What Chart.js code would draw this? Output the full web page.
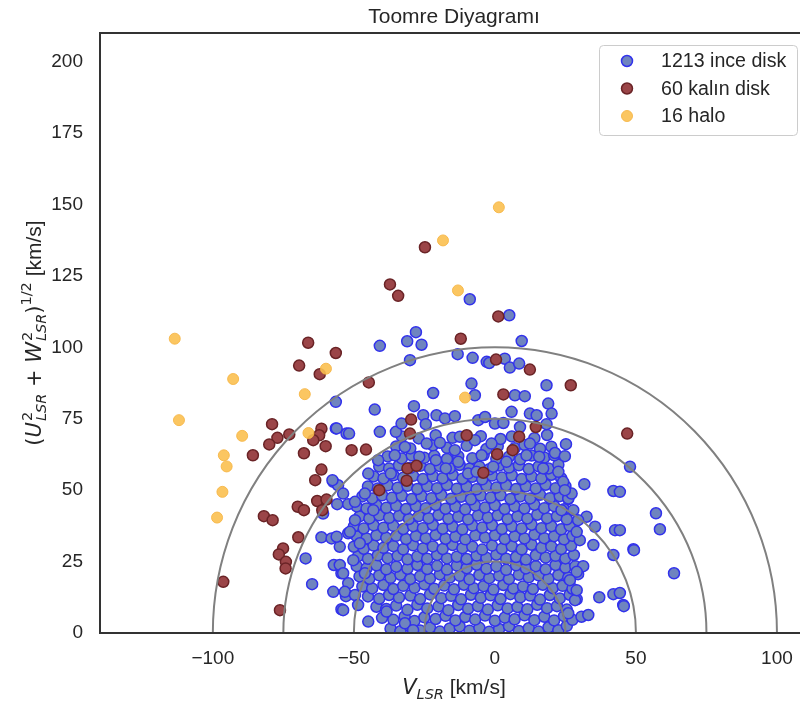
<!DOCTYPE html>
<html>
<head>
<meta charset="utf-8">
<title>Toomre Diyagramı</title>
<script src="https://cdn.jsdelivr.net/npm/chart.js@4.4.1/dist/chart.umd.min.js"></script>
<style>
  html, body { margin: 0; padding: 0; background: #fff; overflow: hidden; }
  #wrap { width: 800px; height: 704px; overflow: hidden; }
  canvas { display: block; }
</style>
</head>
<body>
<div id="wrap"><canvas id="chart" width="820" height="704"></canvas></div>
<script>
// values: [V_LSR, sqrt(U^2 + W^2)] in km/s
const thinDisk = [
  // dense core, row by row
  [-37,1.5],[-33.5,0.6],[-30,2.2],[-26.5,0.9],[-23,1.9],[-19.5,0.5],[-16,1.6],[-12.5,2.3],[-9,0.8],[-5.5,1.8],[-2,0.4],[1.5,1.4],[5,2.4],[8.5,0.7],[12,1.7],[15.5,0.5],[19,2],[22.5,1],[25.5,2.5],
  [-40,5.3],[-36,4.6],[-32,5.8],[-28.5,4.2],[-25,5.5],[-21,4.9],[-17.5,6],[-14,4.4],[-10.5,5.6],[-7,4.7],[-3.5,6.1],[0,4.3],[3.5,5.4],[7,4.8],[10.5,6.2],[14,4.5],[17.5,5.7],[21,4.4],[24.5,5.9],[27.5,4.6],
  [-42,9.2],[-38.5,8.4],[-35,9.6],[-31,8.1],[-27.5,9.9],[-24,8.6],[-20,9.3],[-16.5,8],[-13,9.8],[-9.5,8.5],[-6,9.4],[-2.5,8.2],[1,9.7],[4.5,8.6],[8,9.1],[11.5,8.3],[15,9.9],[18.5,8.7],[22,9.4],[25.5,8.2],
  [-45,12.8],[-41,12],[-37.5,13.3],[-34,12.4],[-30,13.1],[-26.5,11.9],[-23,13.5],[-19,12.2],[-15.5,13],[-12,11.8],[-8.5,13.4],[-5,12.3],[-1.5,13.2],[2,11.9],[5.5,13.6],[9,12.5],[12.5,13.1],[16,11.7],[19.5,13.3],[23,12.1],[26.5,13.4],[29,11.8],
  [-47,16.3],[-43.5,15.6],[-39.5,16.8],[-36,15.4],[-32.5,16.5],[-28.5,15.8],[-25,17],[-21.5,15.5],[-18,16.6],[-14.5,15.3],[-11,16.9],[-7.5,15.7],[-4,16.4],[-0.5,15.2],[3,16.8],[6.5,15.6],[10,16.3],[13.5,15.4],[17,16.9],[20.5,15.7],[24,16.5],[27.5,15.5],
  [-48,19.8],[-44.5,19],[-41,20.2],[-37,19.3],[-33.5,20.4],[-30,18.9],[-26.5,19.9],[-23,19.1],[-19.5,20.5],[-16,19.4],[-12.5,20],[-9,18.8],[-5.5,20.3],[-2,19.2],[1.5,20.1],[5,18.9],[8.5,20.4],[12,19.5],[15.5,20.2],[19,19],[22.5,20.3],[26,19.4],[29.5,20.6],
  [-49,23.4],[-45.5,22.6],[-42,23.7],[-38.5,22.3],[-35,23.2],[-31,22.5],[-27.5,23.8],[-24,22.4],[-20.5,23.5],[-17,22.2],[-13.5,23.6],[-10,22.7],[-6.5,23.9],[-3,22.5],[0.5,23.3],[4,22.1],[7.5,23.7],[11,22.6],[14.5,23.4],[18,22.3],[21.5,23.8],[25,22.9],[28.5,23.4],
  [-48.5,26.9],[-45,26],[-41.5,27.2],[-38,26.2],[-34.5,27],[-31,25.8],[-27.5,26.8],[-24,26],[-20.5,27.3],[-17,26.1],[-13.5,26.7],[-10,25.9],[-6.5,27.1],[-3,26.3],[0.5,27.4],[4,26],[7.5,26.6],[11,25.7],[14.5,27.2],[18,26.4],[21.5,27],[25,26.1],[28,27.3],
  [-50,30.2],[-46.5,29.5],[-43,30.6],[-39.5,29.8],[-36,30.4],[-32.5,29.3],[-29,30.7],[-25.5,29.6],[-22,30.3],[-18.5,29.4],[-15,30.8],[-11.5,29.7],[-8,30.2],[-4.5,29.2],[-1,30.6],[2.5,29.5],[6,30.4],[9.5,29.3],[13,30.9],[16.5,29.8],[20,30.3],[23.5,29.4],[27,30.5],
  [-49,33.8],[-45.5,33.1],[-42,34.2],[-38.5,33.3],[-35,34],[-31.5,32.9],[-28,33.9],[-24.5,33.2],[-21,34.3],[-17.5,33],[-14,33.7],[-10.5,32.8],[-7,34.1],[-3.5,33.4],[0,34.2],[3.5,32.9],[7,33.8],[10.5,33.1],[14,34.4],[17.5,33.2],[21,33.9],[24.5,32.8],[27.5,34],
  [-50,37.3],[-46.5,36.6],[-43,37.7],[-39.5,36.8],[-36,37.5],[-32.5,36.4],[-29,37.4],[-25.5,36.7],[-22,37.8],[-18.5,36.5],[-15,37.2],[-11.5,36.3],[-8,37.6],[-4.5,36.9],[-1,37.7],[2.5,36.4],[6,37.3],[9.5,36.6],[13,37.9],[16.5,36.7],[20,37.4],[23.5,36.3],[26.5,37.5],
  [-48,40.8],[-44.5,40.1],[-41,41.2],[-37.5,40.3],[-34,41],[-30.5,39.9],[-27,40.9],[-23.5,40.2],[-20,41.3],[-16.5,40],[-13,40.7],[-9.5,39.8],[-6,41.1],[-2.5,40.4],[1,41.2],[4.5,39.9],[8,40.8],[11.5,40.1],[15,41.4],[18.5,40.2],[22,40.9],[25.5,39.8],
  [-49,44.3],[-45.5,43.6],[-42,44.7],[-38.5,43.8],[-35,44.5],[-31.5,43.4],[-28,44.4],[-24.5,43.7],[-21,44.8],[-17.5,43.5],[-14,44.2],[-10.5,43.3],[-7,44.6],[-3.5,43.9],[0,44.7],[3.5,43.4],[7,44.3],[10.5,43.6],[14,44.9],[17.5,43.7],[21,44.4],[24.5,43.3],
  [-47,47.8],[-43.5,47.1],[-40,48.2],[-36.5,47.3],[-33,48],[-29.5,46.9],[-26,47.9],[-22.5,47.2],[-19,48.3],[-15.5,47],[-12,47.7],[-8.5,46.8],[-5,48.1],[-1.5,47.4],[2,48.2],[5.5,46.9],[9,47.8],[12.5,47.1],[16,48.4],[19.5,47.2],[23,47.9],[26,46.9],
  [-45,51.3],[-41.5,50.6],[-38,51.7],[-34.5,50.8],[-31,51.5],[-27.5,50.4],[-24,51.4],[-20.5,50.7],[-17,51.8],[-13.5,50.5],[-10,51.2],[-6.5,50.3],[-3,51.6],[0.5,50.9],[4,51.7],[7.5,50.4],[11,51.3],[14.5,50.6],[18,51.9],[21.5,50.7],[25,51.4],
  [-43,54.8],[-39.5,54.1],[-36,55.2],[-32.5,54.3],[-29,55],[-25.5,53.9],[-22,54.9],[-18.5,54.2],[-15,55.3],[-11.5,54],[-8,54.7],[-4.5,53.8],[-1,55.1],[2.5,54.4],[6,55.2],[9.5,53.9],[13,54.8],[16.5,54.1],[20,55.4],[23.5,54.2],
  [-41,58.3],[-37.5,57.6],[-34,58.7],[-30,57.8],[-26.5,58.5],[-23,57.4],[-19.5,58.4],[-16,57.7],[-12.5,58.8],[-9,57.5],[-5.5,58.2],[-2,57.3],[1.5,58.6],[5,57.9],[8.5,58.7],[12,57.4],[15.5,58.3],[19,57.6],[22.5,58.9],
  [-38,61.8],[-33,61.1],[-29.5,62.2],[-25,61.3],[-21.5,62],[-17,60.9],[-13,61.9],[-8,61.2],[-4,62.3],[0.5,61],[5,61.7],[9,60.8],[13,62.1],[17.5,61.4],[21,62.2],
  [-35,65.3],[-30,64.6],[-22,65.7],[-17,64.8],[-10,65.5],[-3,64.4],[1,65.4],[7,64.7],[10.5,65.8],[16,64.5],[20,65.2],
  [-33,68.8],[-27,68.1],[-21,69.2],[-15,68.3],[-5,68.9],[2,67.9],[6,68.8],[14,68.2],[18.5,69.3],
  // left edge of the cloud
  [-56.4,80.9],[-56.4,71.6],[-52.6,69.8],[-57.3,52.9],[-55.6,51.7],[-55.9,45.1],[-60.9,41.8],[-52,45.1],[-61.5,33.5],[-57.9,33.1],
  [-55,30.2],[-52,34.9],[-67.1,26.1],[-57.1,23.8],[-54.4,20.9],[-64.8,17.1],[-57.3,14.4],[-52.8,12.9],[-54.4,8.3],[-52,17.4],
  // upper and middle outliers
  [-8.9,116.8],[-28,105.3],[-40.8,100.5],[-31.1,102.1],[-26,100.9],[-30.1,95.5],[-13.2,97.6],[-7.9,96.3],[-2.9,94.9],[-42.6,78.2],
  [-21.9,84],[-8.3,87.3],[-7.1,83.2],[-28.7,79.4],[-25.4,76.2],[-20.7,76.2],[-17.7,75.1],[-14.2,75.9],[-5.9,74.5],[-56.1,71.6],
  [-51.7,69.8],[-40.8,70.4],[-35.1,70.4],[-33.1,73.3],[-24.5,73.1],[-24.2,66.3],[-19.5,66.6],[-14.2,64],[-12.4,68.7],[-7.1,67.5],
  [-4.7,62.2],[-57.6,53.5],[-44.9,55.8],[-36.9,55.8],[-41.4,60.5],[-35.5,62.2],[-31.9,65.1],[-26.8,61.7],[-20.9,60.5],[-17.4,57.6],
  [-13,59.9],[-9.5,55.8],[-6.5,56.4],[-53.8,48.8],[-49.6,45.9],[-46.1,48.8],[-43.1,43],[-49.6,39.5],[-56.1,33.7],[-51.4,35.4],
  [-47.9,31.4],[-55,23.8],[-50.2,25.5],[-53.8,20.9],[-53.2,14.4],[-46.1,20.9],[-49.6,13.3],[-48.5,9.8],[-44.9,4],[-53.8,8],
  [-38.4,7.5],[-31.9,3.4],[-29,1],
  // right side
  [5.1,111.2],[9.5,102.2],[-2,94.5],[3.5,96],[5.3,92.9],[8.6,94.3],[18.3,86.7],[7.1,83.2],[10.6,82.9],[5.9,77.4],
  [12.4,76.8],[14.8,76.2],[18.9,80.3],[20.1,76.8],[18.3,73.1],[0,73.3],[3,73.5],[-3.5,75.6],[8.9,72.1],[12.4,66.3],
  [-1.2,66.3],[25.2,66.1],[21.3,63],[24.8,61.9],[15.7,61.7],[11.2,62.2],[4.1,59.9],[-0.6,58.2],[22.5,56.4],[17.1,57.6],
  [31.7,52.1],[42,49.7],[47.9,58.2],[26,47.1],[24.2,52.9],[32.5,40.7],[35.5,37.2],[42.6,36],[34.9,30.8],[42,27.3],
  [49.1,29.3],[31.3,23.4],[29,21.4],[37,12.5],[42,13.6],[45.5,9.8],[30.7,5.7],[33.1,6.3],[26,6.9],[28.4,11.5],
  [29,15],[26.6,18.5],[30.1,32.5],[29,35.4],[29.5,39.5],[27.8,43],[27.2,48.8],[23.6,43],[24.8,50],
  [57.1,41.9],[58.5,36.3],[49.3,29],[63.5,20.9],[45.7,9.4],[44.3,49.4],[44.3,36],[44.3,14]
];

const thickDisk = [
  [-66.2,101.6],[-56.4,98],[-69.4,93.6],[-62.1,90.6],[-79,73.1],[-72.9,69.5],[-77.1,68.3],[-80,66],[-85.8,62.2],[-67.7,62.9],
  [-61.5,71.5],[-62.3,69.2],[-64.4,67.5],[-60,65.4],[-61.5,57.2],[-63.7,53.5],[-63,46.2],[-59.7,46.7],[-61.2,43],[-69.9,44.2],
  [-67.7,43],[-81.9,40.9],[-78.8,39.5],[-69.7,33.5],[-75.1,29.6],[-76.6,27.5],[-74.1,24.9],[-74.2,22.6],[-96.3,17.9],[-76.2,8],
  [-37.2,122],[-34.3,118],[-24.8,135],[-12.1,103],[-44.7,87.7],[-29.7,74.7],[-30.1,69.8],[-10,69.2],[-50.8,64],[-45.7,64.2],
  [-31,57.6],[-27.8,58.5],[-31.3,53.3],[-41,50],[-4.1,56.1],
  [1.2,110.8],[0.4,95.7],[12.4,92.2],[3,83.5],[26.9,86.7],[14.5,72.1],[8.6,68.7],[6.3,64],[0.8,62.6],[46.9,69.8]
];

const halo = [
  [-113.5,103],[-112,74.5],[-92.8,88.9],[-89.6,69],[-96.1,62.2],[-95.1,58.3],[-96.6,49.4],[-98.5,40.4],
  [-67.4,83.6],[-59.9,92.5],[-66.1,70],[-18.4,137.4],[1.4,149],[-13.1,119.9],[-10.6,82.4]
];

const seriesLabels = ['1213 ince disk', '60 kalın disk', '16 halo'];
const ringRadii = [25, 50, 75, 100];
const xTicks = [-100, -50, 0, 50, 100];
const yTicks = [0, 25, 50, 75, 100, 125, 150, 175, 200];

const TEXT = '#262626';
const SANS = '"Liberation Sans", Arial, sans-serif';
const MATH = '"DejaVu Sans", sans-serif';

const styles = [
  { fill: '#6f84bf', edge: '#3232ec', width: 1.5 },
  { fill: '#9b4548', edge: '#6a2326', width: 1.5 },
  { fill: 'rgba(251,192,80,0.9)', edge: 'rgba(246,182,70,0.9)', width: 1 }
];

function toPoints(arr){ return arr.map(p => ({ x: p[0], y: p[1] })); }
function fmt(v){ return v < 0 ? '\u2212' + Math.abs(v) : String(v); }

function drawParts(ctx, parts, x, y, center){
  // measure first, then draw left to right from x
  let total = 0;
  parts.forEach(p => {
    ctx.font = p.font;
    if(p.sup !== undefined){
      const w1 = ctx.measureText(p.sup).width;
      ctx.font = p.subFont;
      p.w = Math.max(w1, ctx.measureText(p.sub).width) + 1;
    } else {
      p.w = ctx.measureText(p.t).width;
    }
    total += p.w;
  });
  let cx = center ? x - total / 2 : x;
  parts.forEach(p => {
    ctx.font = p.font;
    if(p.sup !== undefined){
      ctx.fillText(p.sup, cx + 1, y - 9);
      ctx.font = p.subFont;
      ctx.fillText(p.sub, cx + 1, y + 5);
    } else {
      ctx.fillText(p.t, cx, y + (p.dy || 0));
    }
    cx += p.w;
  });
}

const decor = {
  id: 'decor',
  afterDatasetsDraw(chart){
    const { ctx, chartArea: a, scales: { x, y } } = chart;
    const cx = x.getPixelForValue(0), cy = y.getPixelForValue(0);
    const kx = x.getPixelForValue(1) - cx, ky = cy - y.getPixelForValue(1);
    ctx.save();
    ctx.beginPath();
    ctx.rect(a.left, a.top, a.right - a.left, a.bottom - a.top);
    ctx.clip();
    ctx.strokeStyle = '#808080';
    ctx.lineWidth = 2;
    ringRadii.forEach(r => {
      ctx.beginPath();
      ctx.ellipse(cx, cy, r * kx, r * ky, 0, Math.PI, 2 * Math.PI);
      ctx.stroke();
    });
    ctx.restore();

    ctx.save();
    ctx.strokeStyle = '#333333';
    ctx.lineWidth = 2;
    ctx.strokeRect(a.left, a.top, a.right - a.left, a.bottom - a.top);
    ctx.restore();
  },
  afterDraw(chart){
    const { ctx, chartArea: a } = chart;
    const mid = (a.left + a.right) / 2;
    ctx.save();
    ctx.fillStyle = TEXT;
    ctx.textBaseline = 'alphabetic';

    // title
    ctx.textAlign = 'center';
    ctx.font = '21px ' + SANS;
    ctx.fillText('Toomre Diyagramı', mid, 23);

    // x label
    ctx.textAlign = 'left';
    drawParts(ctx, [
      { t: 'V', font: 'oblique 21px ' + MATH },
      { t: 'LSR', font: 'oblique 14.5px ' + MATH, dy: 5 },
      { t: ' [km/s]', font: '21px ' + SANS }
    ], mid, 694, true);

    // y label
    ctx.save();
    ctx.translate(41, (a.top + a.bottom) / 2);
    ctx.rotate(-Math.PI / 2);
    const sub = { sup: '2', sub: 'LSR', font: '14.5px ' + MATH, subFont: 'oblique 14.5px ' + MATH };
    drawParts(ctx, [
      { t: '(', font: '21px ' + MATH },
      { t: 'U', font: 'oblique 21px ' + MATH },
      Object.assign({}, sub),
      { t: ' + ', font: '21px ' + MATH },
      { t: 'W', font: 'oblique 21px ' + MATH },
      Object.assign({}, sub),
      { t: ')', font: '21px ' + MATH },
      { t: '1/2', font: '14.5px ' + MATH, dy: -10 },
      { t: ' [km/s]', font: '21px ' + SANS }
    ], 0, 0, true);
    ctx.restore();

    // legend
    const lx = 599, ly = 45, lw = 198, lh = 90;
    ctx.fillStyle = 'rgba(255,255,255,0.8)';
    ctx.strokeStyle = '#cccccc';
    ctx.lineWidth = 1;
    ctx.beginPath();
    ctx.roundRect(lx + 0.5, ly + 0.5, lw, lh, 4);
    ctx.fill();
    ctx.stroke();
    ctx.font = '19.6px ' + SANS;
    ctx.textBaseline = 'middle';
    seriesLabels.forEach((lab, i) => {
      const ry = 61 + i * 27.5;
      const st = styles[i];
      ctx.beginPath();
      ctx.arc(627, ry, 5.5, 0, 2 * Math.PI);
      ctx.fillStyle = st.fill;
      ctx.fill();
      ctx.lineWidth = st.width;
      ctx.strokeStyle = st.edge;
      ctx.stroke();
      ctx.fillStyle = TEXT;
      ctx.fillText(lab, 661, ry + 1);
    });
    ctx.restore();
  }
};

const sets = [thinDisk, thickDisk, halo].map((arr, i) => ({
  label: seriesLabels[i],
  data: toPoints(arr),
  backgroundColor: styles[i].fill,
  borderColor: styles[i].edge,
  borderWidth: styles[i].width,
  pointRadius: 5.5,
  pointHoverRadius: 5.5,
  order: 3 - i
}));

new Chart(document.getElementById('chart'), {
  type: 'scatter',
  data: { datasets: sets },
  options: {
    responsive: false,
    animation: false,
    devicePixelRatio: 1,
    layout: { padding: { top: 33, right: 12, left: 0, bottom: 0 } },
    plugins: { legend: { display: false }, title: { display: false }, tooltip: { enabled: false } },
    scales: {
      x: {
        type: 'linear', min: -140, max: 111,
        grid: { display: false, drawTicks: false },
        border: { display: false },
        afterBuildTicks: s => { s.ticks = xTicks.map(v => ({ value: v })); },
        afterFit: s => { s.height = 71; },
        ticks: { padding: 14, color: TEXT, font: { family: SANS, size: 19 }, maxRotation: 0, callback: fmt }
      },
      y: {
        type: 'linear', min: 0, max: 210,
        grid: { display: false, drawTicks: false },
        border: { display: false },
        afterBuildTicks: s => { s.ticks = yTicks.map(v => ({ value: v })); },
        afterFit: s => { s.width = 100; },
        ticks: { padding: 17, color: TEXT, font: { family: SANS, size: 19 }, callback: fmt }
      }
    }
  },
  plugins: [decor]
});
</script>
</body>
</html>
